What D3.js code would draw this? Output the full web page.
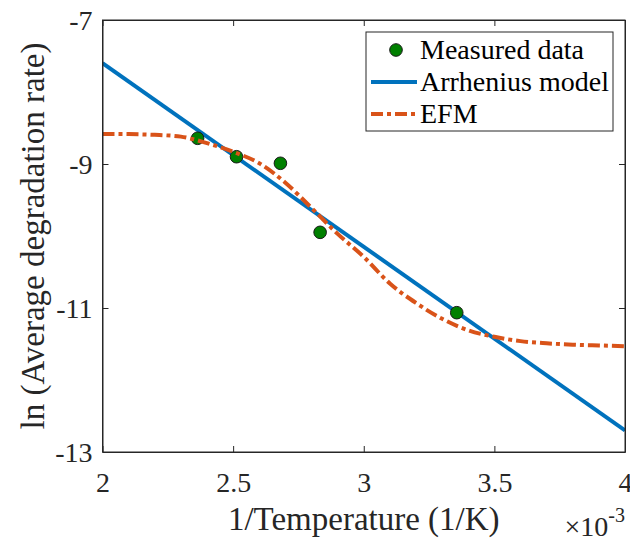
<!DOCTYPE html>
<html>
<head>
<meta charset="utf-8">
<script src="https://cdn.jsdelivr.net/npm/d3@7"></script>
<style>
  body { margin: 0; background: #fff; }
  svg { display: block; font-family: "Liberation Serif", "Times New Roman", serif; }
</style>
</head>
<body>
<svg width="630" height="541"></svg>
<script>
// data (x in 1e-3 1/K)
const measuredX = [2.364, 2.513, 2.681, 2.833, 3.356];
const measuredY = [-8.643, -8.899, -8.990, -9.949, -11.065];

const arrheniusX = [2.0, 4.0];
const arrheniusY = [-7.60, -12.70];

const efmX = [2.00, 2.10, 2.20, 2.30, 2.40, 2.50, 2.60, 2.70, 2.80, 2.90, 3.00,
              3.10, 3.20, 3.30, 3.40, 3.50, 3.60, 3.70, 3.80, 3.90, 4.00];
const efmY = [-8.583, -8.585, -8.595, -8.62, -8.71, -8.83, -8.99, -9.26, -9.61, -9.97, -10.29,
              -10.66, -10.93, -11.15, -11.31, -11.40, -11.46, -11.49, -11.51, -11.52, -11.53];

const xTicks = [2, 2.5, 3, 3.5, 4];
const xTickLabels = ['2', '2.5', '3', '3.5', '4'];
const yTicks = [-7, -9, -11, -13];
const yTickLabels = ['-7', '-9', '-11', '-13'];

const svg = d3.select('svg');
const axisColor = '#262626';

const plotLeft = 102.5, plotRight = 625, plotTop = 20, plotBottom = 452;

const x = d3.scaleLinear().domain([2, 4]).range([plotLeft, plotRight]);
const y = d3.scaleLinear().domain([-13, -7]).range([plotBottom, plotTop]);

// clip for the lines
svg.append('clipPath').attr('id', 'plot')
  .append('rect')
  .attr('x', plotLeft).attr('y', plotTop)
  .attr('width', plotRight - plotLeft).attr('height', plotBottom - plotTop);

const plot = svg.append('g').attr('clip-path', 'url(#plot)');

// arrhenius line
const arr = arrheniusX.map((d, i) => [d, arrheniusY[i]]);
plot.append('path')
  .attr('d', d3.line().x(d => x(d[0])).y(d => y(d[1]))(arr))
  .attr('fill', 'none')
  .attr('stroke', '#0072BD')
  .attr('stroke-width', 4);

// measured points
measuredX.forEach((d, i) => {
  plot.append('circle')
    .attr('cx', x(d))
    .attr('cy', y(measuredY[i]))
    .attr('r', 6.3)
    .attr('fill', '#008000')
    .attr('stroke', '#1a1a1a')
    .attr('stroke-width', 1);
});

// EFM curve
const efm = efmX.map((d, i) => [d, efmY[i]]);
plot.append('path')
  .attr('d', d3.line().curve(d3.curveMonotoneX).x(d => x(d[0])).y(d => y(d[1]))(efm))
  .attr('fill', 'none')
  .attr('stroke', '#D95319')
  .attr('stroke-width', 4)
  .attr('stroke-dasharray', '12,4,4,4');

// axes, ticks inside on all sides
const tickLen = 6;

const xAxis = svg.append('g')
  .attr('transform', `translate(0,${plotBottom})`)
  .call(d3.axisBottom(x).tickValues(xTicks).tickSizeInner(-tickLen).tickSizeOuter(0)
    .tickFormat((d, i) => xTickLabels[i]));
xAxis.selectAll('.tick text').attr('y', 40).attr('dy', null);

const xAxisTop = svg.append('g')
  .attr('transform', `translate(0,${plotTop})`)
  .call(d3.axisTop(x).tickValues(xTicks).tickSizeInner(-tickLen).tickSizeOuter(0).tickFormat(''));

const yAxis = svg.append('g')
  .attr('transform', `translate(${plotLeft},0)`)
  .call(d3.axisLeft(y).tickValues(yTicks).tickSizeInner(-tickLen).tickSizeOuter(0)
    .tickFormat((d, i) => yTickLabels[i]));
yAxis.selectAll('.tick text').attr('x', -10).attr('dy', '0.35em');

const yAxisRight = svg.append('g')
  .attr('transform', `translate(${plotRight},0)`)
  .call(d3.axisRight(y).tickValues(yTicks).tickSizeInner(-tickLen).tickSizeOuter(0).tickFormat(''));

[xAxis, xAxisTop, yAxis, yAxisRight].forEach(a => {
  a.select('.domain').attr('stroke', axisColor);
  a.selectAll('.tick line').attr('stroke', axisColor);
  a.selectAll('.tick text')
    .attr('fill', axisColor)
    .attr('font-family', '"Liberation Serif", serif')
    .attr('font-size', 28);
});

// box outline
svg.append('rect')
  .attr('x', plotLeft).attr('y', plotTop)
  .attr('width', plotRight - plotLeft).attr('height', plotBottom - plotTop)
  .attr('fill', 'none')
  .attr('stroke', axisColor)
  .attr('stroke-width', 1);

// axis labels
svg.append('text')
  .attr('x', (plotLeft + plotRight) / 2)
  .attr('y', 530)
  .attr('text-anchor', 'middle')
  .attr('font-size', 33)
  .attr('fill', axisColor)
  .text('1/Temperature (1/K)');

svg.append('text')
  .attr('transform', `translate(44,${(plotTop + plotBottom) / 2}) rotate(-90)`)
  .attr('text-anchor', 'middle')
  .attr('font-size', 33)
  .attr('fill', axisColor)
  .text('ln (Average degradation rate)');

// exponent
const expo = svg.append('text')
  .attr('x', 625)
  .attr('y', 536)
  .attr('text-anchor', 'end')
  .attr('font-size', 28)
  .attr('fill', axisColor);
expo.append('tspan').text('\u00d710');
expo.append('tspan').attr('font-size', 20).attr('dy', -14).text('-3');

// legend
const legend = svg.append('g');
legend.append('rect')
  .attr('x', 366).attr('y', 32)
  .attr('width', 247).attr('height', 99)
  .attr('fill', '#fff')
  .attr('stroke', axisColor)
  .attr('stroke-width', 1);

const legendNames = ['Measured data', 'Arrhenius model', 'EFM'];
const rowY = [50, 82, 114];

legend.append('circle')
  .attr('cx', 396).attr('cy', rowY[0]).attr('r', 6.3)
  .attr('fill', '#008000').attr('stroke', '#1a1a1a');
legend.append('line')
  .attr('x1', 371).attr('x2', 417).attr('y1', rowY[1]).attr('y2', rowY[1])
  .attr('stroke', '#0072BD').attr('stroke-width', 4);
legend.append('line')
  .attr('x1', 371).attr('x2', 417).attr('y1', rowY[2]).attr('y2', rowY[2])
  .attr('stroke', '#D95319').attr('stroke-width', 4)
  .attr('stroke-dasharray', '12,4,4,4');

legendNames.forEach((name, i) => {
  legend.append('text')
    .attr('x', 420)
    .attr('y', rowY[i] + 9)
    .attr('font-size', 28)
    .attr('fill', '#000')
    .text(name);
});
</script>
</body>
</html>
